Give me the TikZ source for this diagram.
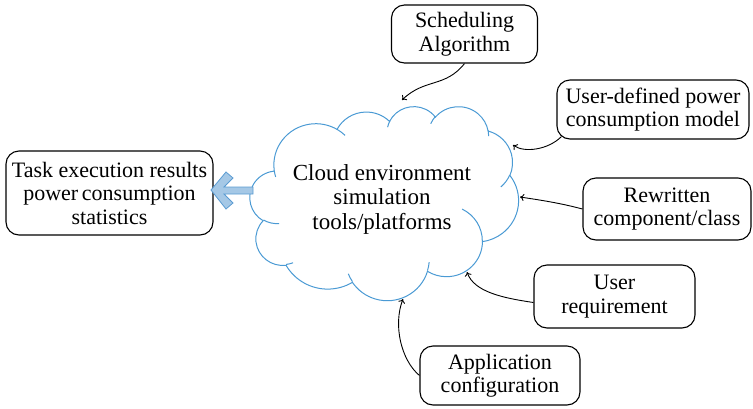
\documentclass[tikz,border=0pt]{standalone}
\usepackage{fontspec}
\setmainfont{Liberation Serif}
\usetikzlibrary{arrows.meta}
\definecolor{cloudblue}{HTML}{4A9AD4}
\definecolor{arrowfill}{HTML}{A5C8E6}
\definecolor{arrowline}{HTML}{5A9BD2}

% one elliptical arc of the cloud outline: x radius, y radius,
% start angle and sweep, both angles measured as seen (not parametric)
\newcommand\cloudarc[4]{%
  \pgfextra{\pgfmathsetmacro\cldS{pang(#3,#1,#2)}%
            \pgfmathsetmacro\cldD{pdel(#3,#4,#1,#2)}}%
  arc[start angle=\cldS, delta angle=\cldD, x radius=#1, y radius=#2]}

\begin{document}
\begin{tikzpicture}[x=1pt,y=-1pt,
  declare function={
    pang(\ang,\rx,\ry)=atan2(\rx*sin(\ang),\ry*cos(\ang));
    pdel(\ang,\sw,\rx,\ry)=mod(pang(\ang+\sw,\rx,\ry)-pang(\ang,\rx,\ry)+720,360)-(\sw<0)*360;
  },
  box/.style={draw, line width=1.1pt, rounded corners=13pt, align=center,
    inner sep=0pt, font=\fontsize{22}{23.5}\selectfont},
  link/.style={line width=0.9pt, -{To[length=4pt,width=7pt]}},
  cloudline/.style={draw=cloudblue, line width=1pt},
]
\useasboundingbox (0,0) rectangle (753,408);

% cloud outline
\begin{scope}[shift={(250,106)}, xscale=6.215, yscale=4.491]
  \path[cloudline, fill=white] (3.900,14.370)
    \cloudarc{6.753}{9.190}{-190.4875}{123.7805}
    \cloudarc{5.333}{7.267}{-144.1024}{89.9452}
    \cloudarc{4.365}{5.945}{-145.8079}{99.7230}
    \cloudarc{4.857}{6.595}{-130.9861}{117.2417}
    \cloudarc{5.333}{7.273}{-78.7089}{109.0269}
    \cloudarc{6.775}{9.220}{-46.2673}{130.2690}
    \cloudarc{5.785}{7.867}{0.6250}{114.0333}
    \cloudarc{6.752}{9.215}{22.4516}{115.1726}
    \cloudarc{7.720}{10.543}{66.2426}{75.7110}
    \cloudarc{4.360}{5.918}{-274.9421}{146.7356}
    \cloudarc{4.345}{5.945}{-246.8285}{152.5189}
    -- cycle;
  % short inner creases of the cloud
  \path[cloudline] (4.693,26.177)  \cloudarc{4.345}{5.945}{86.7420}{26.4295};
  \path[cloudline] (6.928,34.899)  \cloudarc{4.360}{5.918}{73.6105}{11.4475};
  \path[cloudline] (16.478,39.090) \cloudarc{6.752}{9.215}{137.6242}{14.0811};
  \path[cloudline] (28.827,34.751) \cloudarc{6.752}{9.215}{6.4533}{15.9984};
  \path[cloudline] (34.129,22.954) \cloudarc{5.785}{7.867}{-70.2924}{70.9174};
  \path[cloudline] (41.798,15.354) \cloudarc{5.333}{7.273}{30.3180}{27.7515};
  \path[cloudline] (38.324,5.426)  \cloudarc{4.857}{6.595}{-13.7443}{14.8589};
  \path[cloudline] (29.078,3.952)  \cloudarc{4.857}{6.595}{-149.1815}{18.1954};
  \path[cloudline] (22.141,4.720)  \cloudarc{4.365}{5.945}{-163.4943}{17.6864};
  \path[cloudline] (14.000,5.192)  \cloudarc{6.753}{9.190}{-66.7070}{12.3194};
  \path[cloudline] (4.127,15.789)  \cloudarc{6.753}{9.190}{157.6544}{11.8582};
\end{scope}

\node[font=\fontsize{23}{24.5}\selectfont, align=center] (cloudtxt) at (382,199)
  {Cloud environment\\simulation\\tools/platforms};

% boxes
\node[box, minimum width=207pt, minimum height=84pt] (task) at (109.5,193)
  {Task execution results\\power\,consumption\\statistics};
\node[box, minimum width=146pt, minimum height=58pt] (sched) at (464.5,34)
  {Scheduling\\Algorithm};
\node[box, minimum width=192pt, minimum height=59pt] (userdef) at (653,109.5)
  {User-defined power\\consumption model};
\node[box, minimum width=168pt, minimum height=62pt] (rewr) at (667,209)
  {Rewritten\\component/class};
\node[box, minimum width=161pt, minimum height=63pt] (ureq) at (614.5,296.5)
  {User\\requirement};
\node[box, minimum width=160pt, minimum height=59pt] (appcfg) at (500,375.5)
  {Application\\configuration};

% arrow ends on the cloud
\coordinate (inSched) at (402,100);
\coordinate (inUserdef) at (513,145);
\coordinate (inRewr) at (520,197);
\coordinate (inUreq) at (467,272);
\coordinate (inApp) at (403,299);

\draw[link] (sched.south) .. controls (445,88) and (425,78) .. (inSched);
\draw[link] ([xshift=5pt,yshift=3pt]userdef.south west) .. controls (548,150) and (524,153) .. (inUserdef);
\draw[link] (rewr.west) .. controls (560,203) and (540,200) .. (inRewr);
\draw[link] ([yshift=-6pt]ureq.west) .. controls (503,298) and (474,292) .. (inUreq);
\draw[link] (appcfg.west) .. controls (401,360) and (393,325) .. (inApp);

% block arrow from the cloud to the results
\draw[fill=arrowfill, draw=arrowline, line width=0.8pt, line join=miter]
  (211,190) -- (226,172) -- (233,178) -- (224,187) -- (253,187) -- (253,194)
  -- (224,194) -- (233,203) -- (226,209) -- cycle;
\end{tikzpicture}
\end{document}
